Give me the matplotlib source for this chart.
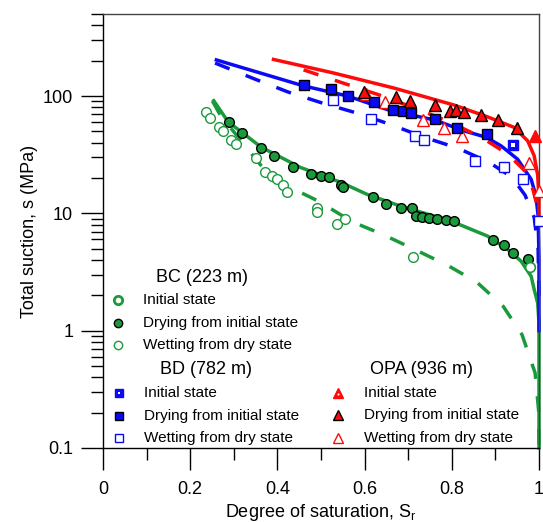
import matplotlib
matplotlib.use('Agg')
import matplotlib.pyplot as plt
from matplotlib.ticker import LogLocator, NullFormatter, FixedLocator

plt.rcParams['font.family'] = ['Liberation Sans', 'DejaVu Sans']

GREEN = '#1b9a3c'
BLUE = '#0a0af5'
RED = '#ff0a0a'

# BC (223 m) - measured points
bc_init_sr = [0.980]
bc_init_s = [3.5]
bc_dry_sr = [0.288, 0.319, 0.363, 0.393, 0.436, 0.478, 0.499, 0.518, 0.546, 0.551, 0.619, 0.650,
             0.683, 0.708, 0.718, 0.731, 0.748, 0.767, 0.786, 0.804, 0.894, 0.919, 0.940, 0.974]
bc_dry_s = [60.3, 48.0, 36.1, 30.9, 24.6, 21.5, 20.7, 20.4, 17.4, 16.8, 13.9, 12.1,
            11.1, 11.1, 9.48, 9.29, 9.18, 9.0, 8.77, 8.55, 5.88, 5.33, 4.55, 4.12]
bc_wet_sr = [0.237, 0.246, 0.267, 0.275, 0.294, 0.305, 0.350, 0.371, 0.388, 0.399, 0.413, 0.421,
             0.491, 0.491, 0.536, 0.556, 0.711]
bc_wet_s = [73.4, 64.5, 54.7, 50.5, 42.1, 38.9, 29.4, 22.5, 20.8, 19.8, 17.4, 15.3,
            11.2, 10.3, 8.16, 8.89, 4.23]
# BC model curves
bc_dry_fit_sr = [0.254, 0.287, 0.363, 0.453, 0.545, 0.606, 0.683, 0.798, 0.882, 0.928, 0.959,
                 0.982, 0.989, 0.997, 1.0, 1.0]
bc_dry_fit_s = [91.2, 60.3, 36.6, 24.6, 18.4, 14.5, 11.5, 8.6, 6.4, 4.93, 3.91,
                2.91, 2.24, 1.72, 1.16, 0.1]
bc_wet_fit_sr = [0.251, 0.269, 0.391, 0.439, 0.494, 0.572, 0.641, 0.715, 0.791, 0.857, 0.918,
                 0.961, 0.991, 0.999, 1.0]
bc_wet_fit_s = [90.6, 68.8, 18.9, 16.0, 12.7, 8.46, 6.62, 4.92, 3.59, 2.60, 1.61,
                0.925, 0.437, 0.211, 0.1]

# BD (782 m)
bd_init_sr = [0.940]
bd_init_s = [38.3]
bd_dry_sr = [0.460, 0.524, 0.563, 0.621, 0.666, 0.687, 0.706, 0.761, 0.811, 0.880]
bd_dry_s = [125, 114.8, 100.7, 89.4, 75.9, 74.4, 71.6, 63.6, 53.3, 47.1]
bd_wet_sr = [0.527, 0.614, 0.716, 0.736, 0.853, 0.919, 0.963, 1.0]
bd_wet_s = [92.4, 63.6, 45.2, 42.1, 27.7, 24.6, 19.5, 8.6]
bd_dry_fit_sr = [0.260, 0.460, 0.561, 0.660, 0.761, 0.828, 0.878, 0.913, 0.951, 0.982, 0.993,
                 0.998, 1.0, 1.0]
bd_dry_fit_s = [203, 122, 100, 74.9, 62.4, 50.5, 44.6, 37.6, 28.9, 19.5, 14.1, 9.5, 4.04, 1.0]
bd_wet_fit_sr = [0.257, 0.347, 0.425, 0.503, 0.582, 0.657, 0.736, 0.814, 0.885, 0.938, 0.968,
                 0.989, 0.998, 1.0]
bd_wet_fit_s = [191, 140, 108, 87.1, 71.6, 57.6, 44.6, 35.9, 27.3, 20.3, 14.3, 9.25, 4.93, 1.84]

# OPA (936 m)
opa_init_sr = [0.991]
opa_init_s = [45.2]
opa_dry_sr = [0.598, 0.673, 0.704, 0.761, 0.796, 0.809, 0.827, 0.867, 0.906, 0.949]
opa_dry_s = [108.8, 97.5, 90.1, 83.8, 74.9, 76.4, 73.4, 69.2, 62.7, 53.3]
opa_wet_sr = [0.604, 0.646, 0.733, 0.782, 0.823, 0.976, 1.0]
opa_wet_s = [104, 88.3, 62.7, 53.3, 45.2, 27.1, 15.5]
opa_dry_fit_sr = [0.391, 0.529, 0.667, 0.805, 0.883, 0.943, 0.974, 0.989, 0.997, 1.0, 1.0]
opa_dry_fit_s = [205, 157, 117, 83.8, 66.2, 54, 41.5, 30.9, 21.1, 13.2, 8.05]
opa_wet_fit_sr = [0.460, 0.556, 0.634, 0.713, 0.791, 0.867, 0.929, 0.968, 0.986, 0.995, 1.0]
opa_wet_fit_s = [167, 127, 102, 79.4, 61.1, 44.6, 31.9, 22.9, 16.0, 11.9, 8.55]

fig = plt.figure(figsize=(5.43, 5.22), dpi=100)
ax = fig.add_axes([103 / 543, 74 / 522, 436 / 543, 434 / 522])

lw = 2.5
dash = (4.5, 5)
# model curves
ax.plot(bc_dry_fit_sr, bc_dry_fit_s, color=GREEN, lw=lw, clip_on=False, zorder=2)
ax.plot(bc_wet_fit_sr, bc_wet_fit_s, color=GREEN, lw=lw, dashes=dash, clip_on=False, zorder=2)
ax.plot(bd_dry_fit_sr, bd_dry_fit_s, color=BLUE, lw=lw, clip_on=False, zorder=2)
ax.plot(bd_wet_fit_sr, bd_wet_fit_s, color=BLUE, lw=lw, dashes=dash, clip_on=False, zorder=2)
ax.plot(opa_dry_fit_sr, opa_dry_fit_s, color=RED, lw=lw, clip_on=False, zorder=2)
ax.plot(opa_wet_fit_sr, opa_wet_fit_s, color=RED, lw=lw, dashes=dash, clip_on=False, zorder=2)

# measured points
ms = 7
ax.plot(bc_wet_sr, bc_wet_s, 'o', ms=ms, mfc='white', mec=GREEN, mew=1, zorder=3)
ax.plot(bc_dry_sr, bc_dry_s, 'o', ms=ms, mfc=GREEN, mec='black', mew=1, zorder=4)
ax.plot(bc_init_sr, bc_init_s, 'o', ms=ms, mfc='white', mec=GREEN, mew=1.2, zorder=4)

ax.plot(bd_wet_sr, bd_wet_s, 's', ms=ms, mfc='white', mec=BLUE, mew=1, clip_on=False, zorder=3)
ax.plot(bd_dry_sr, bd_dry_s, 's', ms=ms, mfc=BLUE, mec='black', mew=1, zorder=4)
ax.plot(bd_init_sr, bd_init_s, 's', ms=ms, mfc=BLUE, mec=BLUE, mew=1, zorder=4)
ax.plot(bd_init_sr, bd_init_s, 's', ms=2.2, mfc='white', mec='white', mew=0, zorder=5)

ax.plot(opa_wet_sr, opa_wet_s, '^', ms=8.5, mfc='white', mec=RED, mew=1, clip_on=False, zorder=3)
ax.plot(opa_dry_sr, opa_dry_s, '^', ms=8.5, mfc=RED, mec='black', mew=1, zorder=4)
ax.plot(opa_init_sr, opa_init_s, '^', ms=8, mfc=RED, mec=RED, mew=1, clip_on=False, zorder=4)

ax.set_xlim(0, 1)
ax.set_yscale('log')
ax.set_ylim(0.1, 500)

ax.xaxis.set_major_locator(FixedLocator([0, 0.2, 0.4, 0.6, 0.8, 1.0]))
ax.set_xticklabels(['0', '0.2', '0.4', '0.6', '0.8', '1'])
ax.xaxis.set_minor_locator(FixedLocator([0.1, 0.3, 0.5, 0.7, 0.9]))
ax.yaxis.set_major_locator(FixedLocator([0.1, 1, 10, 100]))
ax.set_yticklabels(['0.1', '1', '10', '100'])
ax.yaxis.set_minor_locator(LogLocator(base=10, subs=range(2, 10)))
ax.yaxis.set_minor_formatter(NullFormatter())

ax.tick_params(which='major', direction='out', length=15.5, width=1, labelsize=13, pad=6)
ax.tick_params(axis='x', which='major', pad=8)
ax.tick_params(which='minor', direction='out', length=8.4, width=1)
for sp in ax.spines.values():
    sp.set_linewidth(1)
ax.spines['top'].set_color('#444444')
ax.spines['right'].set_color('#444444')

ax.set_xlabel('Degree of saturation, S$_\\mathregular{r}$', fontsize=13)
ax.set_ylabel('Total suction, s (MPa)', fontsize=13)
ax.xaxis.set_label_coords(0.5, (448 - 502) / 434)
ax.yaxis.set_label_coords((38 - 103) / 436, 0.5)


# legend drawn by hand, positions in pixels of the figure
def to_ax(px, py):
    return (px - 103) / 436, (448 - py) / 434


def leg_mark(px, py, **kw):
    x, y = to_ax(px, py)
    ax.plot([x], [y], transform=ax.transAxes, clip_on=False, zorder=6, **kw)


def leg_text(px, py, s, size=11, ha='left'):
    x, y = to_ax(px, py)
    ax.text(x, y, s, transform=ax.transAxes, fontsize=size, ha=ha, va='center')


lms = 6
# BC
leg_text(202, 277, 'BC (223 m)', size=13, ha='center')
leg_mark(118, 300, marker='o', ms=lms, mfc='white', mec=GREEN, mew=2)
leg_mark(118, 323, marker='o', ms=lms, mfc=GREEN, mec='black', mew=1)
leg_mark(118, 345, marker='o', ms=lms, mfc='white', mec=GREEN, mew=1)
leg_text(143, 300, 'Initial state')
leg_text(143, 323, 'Drying from initial state')
leg_text(143, 345, 'Wetting from dry state')
# BD
leg_text(206, 370, 'BD (782 m)', size=13, ha='center')
leg_mark(119, 393, marker='s', ms=lms, mfc=BLUE, mec=BLUE, mew=1)
leg_mark(119, 393, marker='s', ms=1.8, mfc='white', mec='white', mew=0)
leg_mark(119, 416, marker='s', ms=lms, mfc=BLUE, mec='black', mew=1)
leg_mark(119, 438, marker='s', ms=lms, mfc='white', mec=BLUE, mew=1)
leg_text(144, 393, 'Initial state')
leg_text(144, 416, 'Drying from initial state')
leg_text(144, 438, 'Wetting from dry state')
# OPA
leg_text(422, 370, 'OPA (936 m)', size=13, ha='center')
leg_mark(338, 393, marker='^', ms=7, mfc=RED, mec=RED, mew=1)
leg_mark(338, 394, marker='o', ms=1.5, mfc='white', mec='white', mew=0)
leg_mark(338, 415, marker='^', ms=7, mfc=RED, mec='black', mew=1)
leg_mark(338, 438, marker='^', ms=7, mfc='white', mec=RED, mew=1)
leg_text(364, 393, 'Initial state')
leg_text(364, 415, 'Drying from initial state')
leg_text(364, 438, 'Wetting from dry state')

fig.savefig('out.png', dpi=100)
